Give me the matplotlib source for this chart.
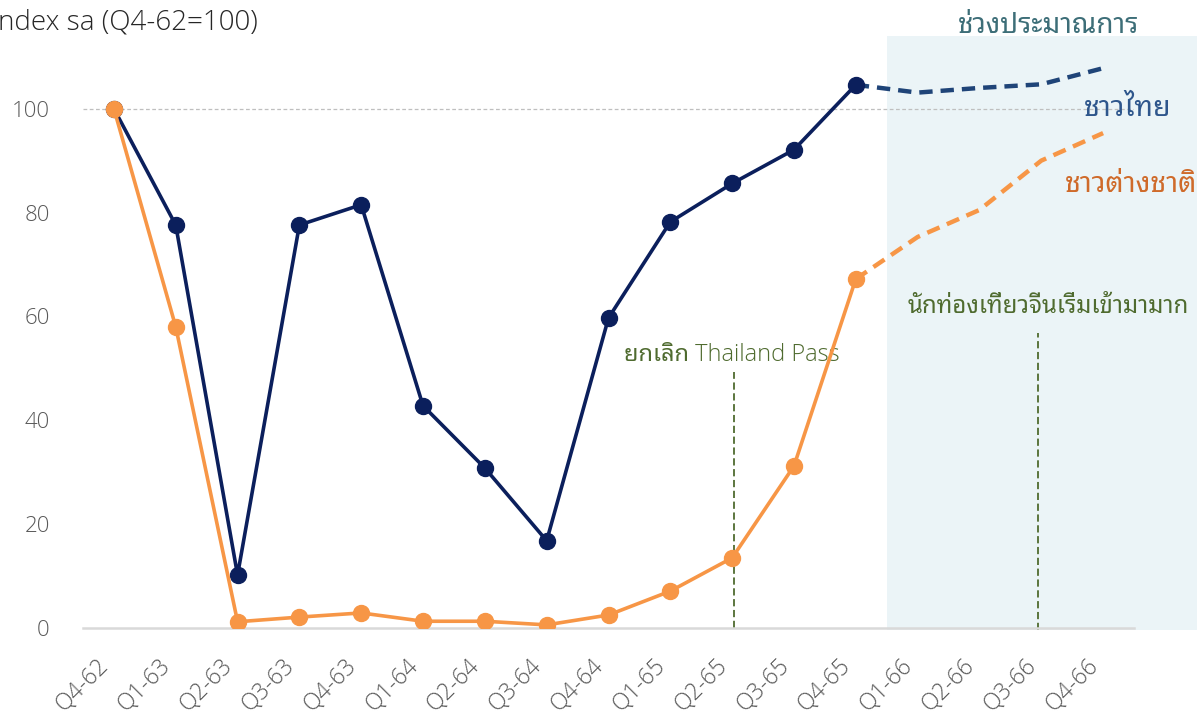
import matplotlib
matplotlib.use('Agg')
import matplotlib.pyplot as plt
from matplotlib import font_manager
from matplotlib.transforms import ScaledTranslation

# ---- data ----
categories = ['Q4-62', 'Q1-63', 'Q2-63', 'Q3-63', 'Q4-63', 'Q1-64', 'Q2-64', 'Q3-64',
              'Q4-64', 'Q1-65', 'Q2-65', 'Q3-65', 'Q4-65', 'Q1-66', 'Q2-66', 'Q3-66', 'Q4-66']
thai_actual = [100, 77.6, 10.2, 77.6, 81.5, 42.8, 30.8, 16.8, 59.7, 78.2, 85.6, 92.1, 104.6]
foreign_actual = [100, 58.0, 1.2, 2.1, 2.9, 1.3, 1.3, 0.6, 2.5, 7.1, 13.5, 31.2, 67.2]
thai_forecast = [104.6, 103.1, 104.0, 104.7, 107.8]
foreign_forecast = [67.2, 75.3, 80.5, 90.0, 95.3]
yticks = [0, 20, 40, 60, 80, 100]

fl = font_manager.fontManager.ttflist
names = set(f.name for f in fl)
def has_light(n):
    return any(f.name == n and isinstance(f.weight, int) and f.weight <= 350 for f in fl) or \
           any(f.name == n and f.weight in ('light', 'extra-light', 'ultralight', 'thin') for f in fl)

latin = [n for n in ['Open Sans', 'Noto Sans', 'Lato', 'Inter', 'Roboto'] if n in names and has_light(n)]
latin = latin[:1] or ['Noto Sans']
thai = [n for n in ['Noto Sans Thai Looped', 'Noto Sans Thai', 'Loma'] if n in names][:1]
FAM = latin + thai + ['DejaVu Sans']
plt.rcParams['font.family'] = FAM

NAVY = '#0b1f5c'
NAVY_F = '#1f4478'
ORANGE = '#f79646'
GRAY = '#595959'
GREEN = '#4f6b2f'
W = 'light'

fig = plt.figure(figsize=(11.97, 7.17), dpi=100)
ax = fig.add_axes([83/1197, 1-628/717, (1134-83)/1197, (628-36)/717])
ax.set_xlim(-0.5, 16.5)
ax.set_ylim(0, 114)

x = list(range(len(categories)))
n_act = len(thai_actual)
xf = x[n_act-1:]

ax.axvspan(12.5, 17.6, ymin=-0.004, ymax=1, color='#ebf4f7', zorder=0, clip_on=False, lw=0)
ax.axhline(100, color='#bfbfbf', lw=0.9, ls=(0, (3, 2)), zorder=1)

ax.plot(x[:n_act], thai_actual, color=NAVY, lw=2.6, marker='o', ms=11.5, zorder=4)
ax.plot(x[:n_act], foreign_actual, color=ORANGE, lw=2.6, marker='o', ms=11.5, zorder=5)
ax.plot(xf, thai_forecast, color=NAVY_F, lw=3.2, ls=(0, (3, 1.8)), zorder=3)
ax.plot(xf, foreign_forecast, color=ORANGE, lw=3.2, ls=(0, (3, 1.8)), zorder=3)

ax.vlines(10.03, 0, 49.3, color=GREEN, lw=1.3, ls=(0, (4, 2)), zorder=2)
ax.vlines(14.94, -0.4, 56.8, color=GREEN, lw=1.3, ls=(0, (4, 2)), zorder=2, clip_on=False)

for s in ['top', 'right', 'left']:
    ax.spines[s].set_visible(False)
ax.spines['bottom'].set_color('#d9d9d9')
ax.spines['bottom'].set_linewidth(1.8)

ax.tick_params(axis='both', length=0)
ax.tick_params(axis='y', pad=24)
ax.tick_params(axis='x', pad=19)
ax.set_xticks(x)
ax.set_xticklabels(categories, rotation=45, ha='right', rotation_mode='anchor',
                   fontsize=16.5, color=GRAY, fontweight=W)
off = ScaledTranslation(-17/100, 0, fig.dpi_scale_trans)
for lab in ax.get_xticklabels():
    lab.set_transform(lab.get_transform() + off)
ax.set_yticks(yticks)
ax.set_yticklabels([str(v) for v in yticks], fontsize=16, color=GRAY, fontweight=W)

fig.text(-9/1197, 1-22/717, 'Index sa (Q4-62=100)', fontsize=20, color='#262626',
         va='center', ha='left', fontweight=W)

kw = dict(ha='center', va='center', fontweight=W, clip_on=False)
ax.text(10.0, 52.5, 'ยกเลิก Thailand Pass', color=GREEN, fontsize=17, **kw)
ax.text(15.12, 61.8, 'นักท่องเที่ยวจีนเริ่มเข้ามามาก', color=GREEN, fontsize=17.3, **kw)
ax.text(15.12, 116, 'ช่วงประมาณการ', color='#3d6e78', fontsize=20, **kw)
ax.text(16.4, 100, 'ชาวไทย', color='#2e568c', fontsize=20.5, **kw)
ax.text(16.45, 85.3, 'ชาวต่างชาติ', color='#cf6a2a', fontsize=20.5, **kw)

fig.savefig('out.png', dpi=100)
